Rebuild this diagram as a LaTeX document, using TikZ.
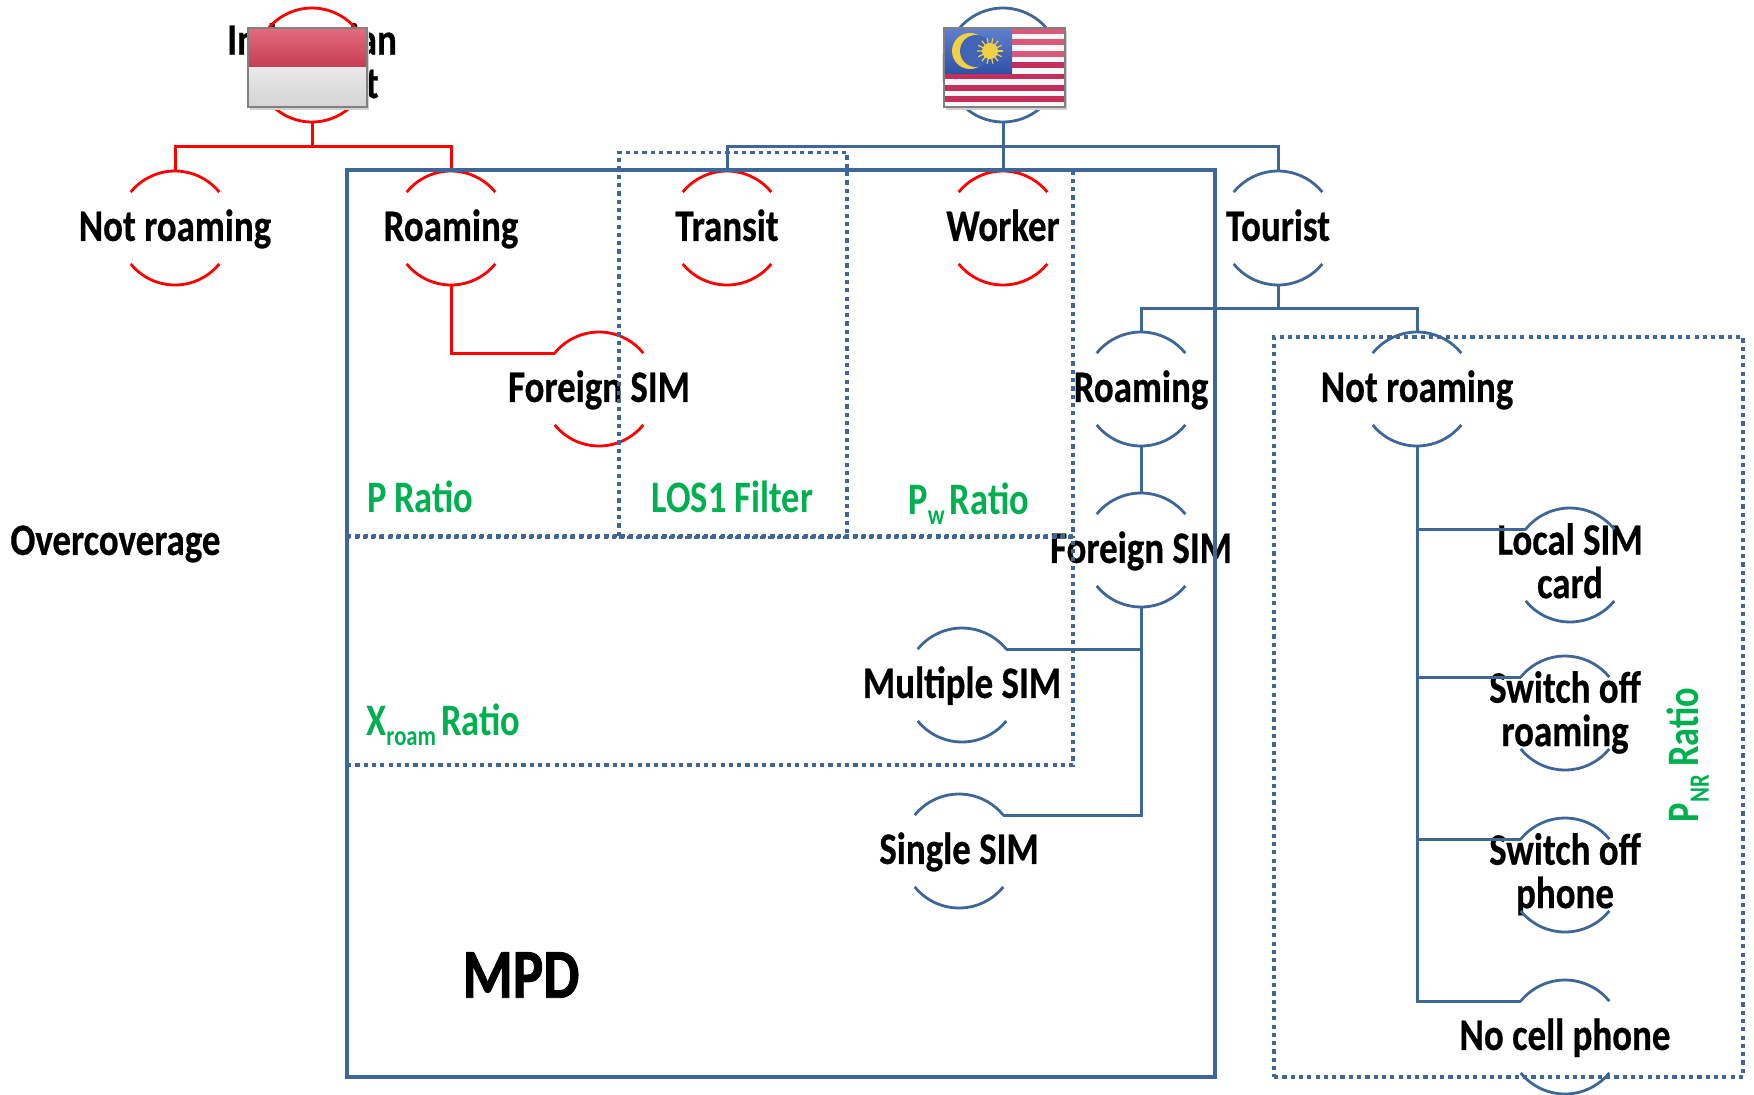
\documentclass[tikz,border=0pt]{standalone}
\usepackage{fontspec}
\newfontfamily\labfont[FakeStretch=0.82,FakeBold=0.5]{Carlito Bold}
\newfontfamily\grnfont[FakeStretch=0.81]{Carlito Bold}
\newfontfamily\mpdfont[FakeStretch=0.82,FakeBold=1.2]{Carlito Bold}
\definecolor{dred}{HTML}{FF0000}
\definecolor{dblue}{HTML}{3F6698}
\definecolor{dgreen}{HTML}{00B050}
\definecolor{flagrosea}{HTML}{E26C7E}
\definecolor{flagroseb}{HTML}{C63C52}
\definecolor{flaggreya}{HTML}{E8E8E8}
\definecolor{flaggreyb}{HTML}{D4D4D4}
\definecolor{stripea}{HTML}{E4688A}
\definecolor{stripeb}{HTML}{C52E5A}
\definecolor{cantona}{HTML}{5F80CC}
\definecolor{cantonb}{HTML}{2F52A8}
\definecolor{flagsun}{HTML}{F3CF45}
\newcommand{\lowsub}[1]{\raisebox{-0.45ex}{\fontsize{14}{14}\selectfont #1}}
\newcommand{\labstrut}{\rule[-4.4pt]{0pt}{21.7pt}}
\newcommand{\blob}[5]{%
  \node[blobshape] (#1) at (#2,#3) {};
  \node[lab] (#1-t) at (#1) {#5};
  \draw[#4,arcline] (#1.141) arc[start angle=141,end angle=39,radius=28.5pt];
  \draw[#4,arcline] (#1.219) arc[start angle=219,end angle=321,radius=28.5pt];
}
\tikzset{
  blobshape/.style={circle,minimum size=57pt,inner sep=0pt,outer sep=0pt},
  lab/.style={font=\labfont\fontsize{22.5}{21.7}\selectfont,align=center,text=black,inner sep=0pt,
    execute at begin node=\labstrut,execute at end node=\labstrut},
  grn/.style={font=\grnfont\fontsize{22.5}{21.7}\selectfont,text=dgreen,inner sep=0pt},
  arcline/.style={line width=1.4pt},
  redline/.style={dred,line width=1.5pt},
  blueline/.style={dblue,line width=1.5pt},
  dotbox/.style={draw=dblue,line width=1.8pt,dash pattern=on 2.1pt off 2.05pt},
}
\begin{document}
\begin{tikzpicture}[x=0.5pt,y=-0.5pt]
\useasboundingbox (0,0) rectangle (1754,1094);
% circles
\blob{indo}{312}{65}{dred}{Indonesian\\Resident}
\blob{malay}{1003}{65}{dblue}{\\\scalebox{.93}[1]{Resident}}
\blob{nra}{175}{228}{dred}{Not roaming}
\blob{roa}{451}{228}{dred}{Roaming}
\blob{tra}{727}{228}{dred}{Transit}
\blob{wor}{1003}{228}{dred}{Worker}
\blob{tou}{1278}{228}{dblue}{Tourist}
\blob{fsr}{599}{389}{dred}{Foreign SIM}
\blob{rob}{1141}{389}{dblue}{Roaming}
\blob{nrb}{1417}{389}{dblue}{Not roaming}
\blob{fsb}{1141}{550}{dblue}{Foreign SIM}
\blob{mul}{962}{685}{dblue}{Multiple SIM}
\blob{sin}{959}{851}{dblue}{Single SIM}
\blob{loc}{1570}{565}{dblue}{Local SIM\\card}
\blob{swr}{1565}{713}{dblue}{Switch off\\roaming}
\blob{swp}{1565}{875}{dblue}{Switch off\\phone}
\blob{noc}{1565}{1037}{dblue}{No cell phone}
% connectors
\coordinate (busr) at (312,146);
\coordinate (busb) at (1003,146);
\coordinate (busc) at (1278,308);
\draw[redline] (indo.south) -- (busr);
\draw[redline] (nra.north) |- (busr) -| (roa.north);
\draw[redline] (roa.south) |- (fsr.141);
\draw[blueline] (malay.south) -- (wor.north);
\draw[blueline] (tra.north) |- (busb) -| (tou.north);
\draw[blueline] (tou.south) -- (busc);
\draw[blueline] (rob.north) |- (busc) -| (nrb.north);
\draw[blueline] (rob.south) -- (fsb.north);
\draw[blueline] (fsb.south) |- (sin.39);
\draw[blueline] (fsb.south) |- (mul.39);
\draw[blueline] (nrb.south) |- (noc.141);
\draw[blueline] (nrb.south) |- (loc.141);
\draw[blueline] (nrb.south) |- (swr.141);
\draw[blueline] (nrb.south) |- (swp.141);
% region boxes
\node[draw=dblue,line width=1.7pt,inner sep=0pt,outer sep=0pt,minimum width=434pt,minimum height=453.5pt] (mpdbox) at (781,623.5) {};
\node[dotbox,inner sep=0pt,outer sep=0pt,minimum width=363pt,minimum height=183pt] (pbox) at (710,353) {};
\node[dotbox,inner sep=0pt,outer sep=0pt,minimum width=114pt,minimum height=192.5pt] (losbox) at (733,345) {};
\node[dotbox,inner sep=0pt,outer sep=0pt,minimum width=363pt,minimum height=114pt] (xbox) at (710,651) {};
\node[dotbox,inner sep=0pt,outer sep=0pt,minimum width=234.5pt,minimum height=370pt] (nrbox) at (1508.5,707) {};
% labels
\node[lab,anchor=west] (over) at (10,542) {Overcoverage};
\node[font=\mpdfont\fontsize{35}{35}\selectfont,inner sep=0pt] (mpd) at (521,975) {MPD};
\node[grn,anchor=west] (pr) at (367,497) {P\,Ratio};
\node[grn,anchor=west] (los) at (651,497) {LOS1 Filter};
\node[grn,anchor=west] (pw) at (908,504) {P\lowsub{w}\hspace{-1.5pt} Ratio};
\node[grn,anchor=west] (xr) at (366,725) {X\lowsub{roam}\hspace{-1.5pt} Ratio};
\node[grn,rotate=90] (pnr) at (1688,755) {P\lowsub{NR} Ratio};
% Indonesian flag
\fill[gray!35] (250,31) rectangle (369,110);
\shade[top color=flagrosea,bottom color=flagroseb] (248,28) rectangle (367,67);
\shade[top color=flaggreya,bottom color=flaggreyb] (248,67) rectangle (367,107);
\draw[gray,line width=0.8pt] (248,28) rectangle (367,107);
% Malaysian flag
\fill[gray!35] (946,31) rectangle (1067,110);
\fill[white!94!gray] (944,28) rectangle (1065,107);
\foreach \i in {0,2,...,12}{
  \pgfmathsetmacro{\stripemix}{\i<6?30:100}
  \fill[stripeb!\stripemix!stripea] (944,{28+\i*5.7}) rectangle (1065,{28+(\i+1)*5.7});
}
\shade[top color=cantona,bottom color=cantonb] (944,28) rectangle (1012,73);
\fill[flagsun] (970,51) circle[radius=18];
\fill[cantonb!60!cantona] (976,51) circle[radius=16];
\foreach \a in {0,25.7,...,340}{
  \draw[flagsun,line width=0.6pt] (990,51) -- ++(\a:13);
}
\fill[flagsun] (990,51) circle[radius=8];
\draw[gray,line width=0.6pt] (944,28) rectangle (1065,107);
\end{tikzpicture}
\end{document}
